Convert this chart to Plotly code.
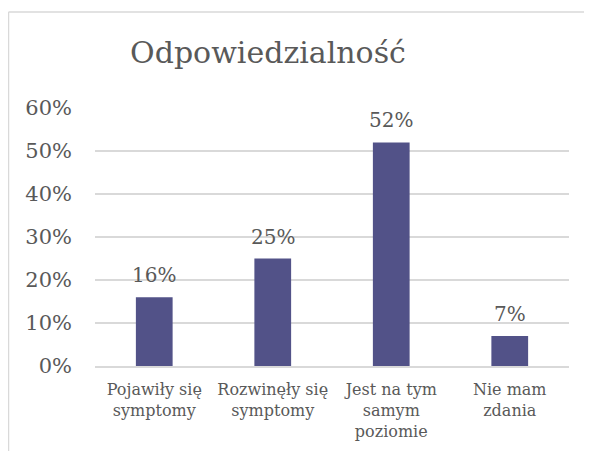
import plotly.graph_objects as go

# ── Data ────────────────────────────────────────────────────────────────────
CATEGORIES = [
    "Pojawiły się<br>symptomy",
    "Rozwinęły się<br>symptomy",
    "Jest na tym<br>samym<br>poziomie",
    "Nie mam<br>zdania",
]
VALUES = [0.16, 0.25, 0.52, 0.07]
LABELS = ["16%", "25%", "52%", "7%"]

BAR_COLOR = "#525288"
TEXT_COLOR = "#595959"
GRID_COLOR = "#D9D9D9"
FONT = "'DejaVu Serif', 'Liberation Serif', serif"

# page body adds an 8px margin, so the figure is sized to fit inside it
W, H = 584, 443
L, R, T, B = 87, 23, 100, 85


def px_x(px):
    return (px - L) / (W - L - R)


def px_y(py):
    return (H - B - py) / (H - T - B)


fig = go.Figure(
    go.Bar(
        x=CATEGORIES,
        y=VALUES,
        marker=dict(color=BAR_COLOR, line=dict(width=0)),
        hoverinfo="skip",
    )
)

for cat, val, lab in zip(CATEGORIES, VALUES, LABELS):
    fig.add_annotation(
        x=cat, y=val, text=lab, showarrow=False,
        yanchor="bottom", yshift=8,
        font=dict(family=FONT, size=20, color=TEXT_COLOR),
    )

# chart border (only top and left edges are visible in the frame)
fig.add_shape(type="line", xref="paper", yref="paper",
              x0=px_x(0.5), x1=px_x(W + 5), y0=px_y(4), y1=px_y(4),
              line=dict(color=GRID_COLOR, width=1.5))
fig.add_shape(type="line", xref="paper", yref="paper",
              x0=px_x(0.5), x1=px_x(0.5), y0=px_y(4), y1=px_y(H + 5),
              line=dict(color=GRID_COLOR, width=1.5))

fig.update_layout(
    width=W,
    height=H,
    margin=dict(l=L, r=R, t=T, b=B, autoexpand=False),
    plot_bgcolor="white",
    paper_bgcolor="white",
    bargap=0.69,
    showlegend=False,
    font=dict(family=FONT, color=TEXT_COLOR),
    title=dict(
        text="Odpowiedzialność",
        x=260 / W, xref="container", xanchor="center",
        y=1 - 44 / H, yref="container", yanchor="middle",
        font=dict(family=FONT, size=30, color=TEXT_COLOR),
    ),
    xaxis=dict(
        showgrid=False,
        showline=True,
        linecolor=GRID_COLOR,
        linewidth=1.5,
        ticks="",
        automargin=False,
        ticklabelstandoff=8,
        tickfont=dict(family=FONT, size=16, color=TEXT_COLOR),
    ),
    yaxis=dict(
        range=[0, 0.6],
        dtick=0.1,
        tickformat=".0%",
        showgrid=True,
        gridcolor=GRID_COLOR,
        gridwidth=1.5,
        zeroline=False,
        showline=False,
        ticks="",
        automargin=False,
        ticklabelstandoff=22,
        tickfont=dict(family=FONT, size=21, color=TEXT_COLOR),
    ),
)

fig.write_html("out.html")
